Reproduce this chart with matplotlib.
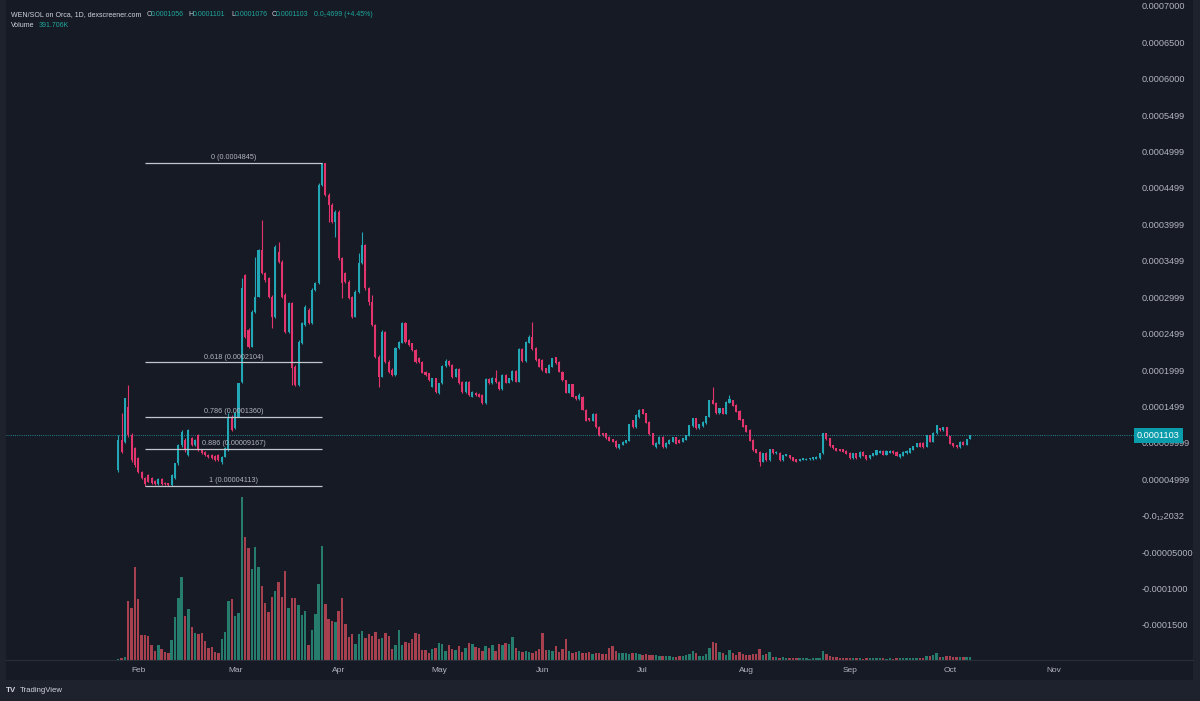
import matplotlib
matplotlib.use("Agg")
import matplotlib.pyplot as plt
import matplotlib.dates as mdates
from matplotlib.patches import Rectangle
from matplotlib.lines import Line2D
import numpy as np
import pandas as pd

plt.rcParams['font.family'] = ['Liberation Sans', 'DejaVu Sans']

# daily WEN/SOL candles, prices in units of 1e-4 SOL
start_date = "2024-01-26"
opens = [
    .627, 1.039, 1.016, 1.497, 1.108, .925, .787, .604, .513, .558,
    .513, .476, .430, .508, .453, .444, .421, .513, .719, .970,
    1.039, .833, 1.062, .970, 1.108, .902, .879, .833, .833, .819,
    .833, .742, .810, .902, 1.359, 1.199, 1.359, 1.840, 3.305, 2.549,
    2.321, 2.801, 3.007, 3.648, 3.328, 3.259, 3.007, 2.732, 3.625, 3.488,
    3.030, 2.527, 2.916, 2.046, 1.794, 2.366, 2.618, 2.824, 2.641, 3.099,
    3.190, 4.540, 4.838, 4.403, 4.266, 4.037, 4.174, 3.533, 3.328, 3.213,
    3.007, 2.732, 3.076, 3.465, 3.717, 3.122, 2.938, 2.618, 2.183, 1.909,
    2.527, 2.115, 2.000, 1.932, 2.298, 2.375, 2.641, 2.412, 2.366, 2.275,
    2.160, 2.115, 1.977, 1.954, 1.771, 1.886, 1.680, 1.817, 2.055, 2.128,
    2.069, 1.909, 2.009, 1.840, 1.703, 1.840, 1.634, 1.689, 1.671, 1.657,
    1.542, 1.872, 1.817, 1.895, 1.840, 1.735, 1.932, 1.826, 1.863, 1.991,
    1.840, 2.289, 2.128, 2.375, 2.458, 2.298, 2.147, 2.138, 2.023, 1.964,
    2.046, 2.174, 2.115, 1.977, 1.863, 1.689, 1.808, 1.643, 1.597, 1.634,
    1.451, 1.337, 1.305, 1.396, 1.222, 1.130, 1.131, 1.085, 1.049, 1.030,
    .925, .971, 1.003, 1.030, 1.314, 1.213, 1.351, 1.460, 1.405, 1.291,
    1.131, .939, .985, 1.085, .939, .985, 1.017, 1.076, 1.040, 1.017,
    1.040, 1.094, 1.232, 1.337, 1.200, 1.232, 1.268, 1.360, 1.588, 1.552,
    1.405, 1.474, 1.396, 1.552, 1.588, 1.520, 1.442, 1.323, 1.245, 1.177,
    1.040, .912, .879, .742, .865, .765, .911, .856, .865, .765,
    .819, .833, .801, .774, .755, .765, .765, .774, .774, .783,
    .787, .856, 1.131, 1.062, .970, .925, .911, .911, .893, .865,
    .787, .856, .801, .879, .833, .787, .819, .833, .865, .893,
    .833, .865, .893, .879, .801, .819, .856, .865, .902, .948,
    1.003, 1.003, .948, 1.108, 1.016, 1.131, 1.199, 1.176, 1.213, 1.094,
    .993, .970, .938, 1.016, .970, 1.056,
]
highs = [
    1.108, 1.405, 1.611, 1.794, 1.131, .947, .800, .615, .525, .572,
    .526, .490, .513, .517, .462, .453, .572, .728, .984, 1.176,
    1.062, 1.185, 1.085, 1.057, 1.121, .911, .888, .847, .847, .833,
    .847, .819, .938, 1.405, 1.382, 1.428, 1.817, 3.259, 3.318, 2.572,
    2.824, 3.556, 3.657, 4.060, 3.350, 3.273, 3.030, 3.717, 3.762, 3.511,
    3.053, 2.938, 2.938, 2.069, 2.412, 2.664, 2.893, 2.847, 3.122, 3.213,
    4.563, 4.845, 4.840, 4.426, 4.289, 4.197, 4.197, 3.556, 3.350, 3.236,
    3.016, 3.099, 3.602, 3.900, 3.726, 3.135, 3.030, 2.632, 2.206, 2.549,
    2.540, 2.137, 2.023, 2.311, 2.398, 2.655, 2.655, 2.426, 2.375, 2.289,
    2.175, 2.128, 1.991, 1.964, 1.895, 1.895, 1.817, 2.069, 2.147, 2.137,
    2.078, 2.023, 2.023, 1.854, 1.854, 1.854, 1.716, 1.703, 1.680, 1.671,
    1.886, 1.886, 1.909, 2.000, 1.849, 1.945, 1.945, 1.895, 2.000, 2.000,
    2.302, 2.302, 2.403, 2.481, 2.664, 2.311, 2.160, 2.150, 2.035, 2.080,
    2.170, 2.185, 2.125, 1.985, 1.870, 1.815, 1.815, 1.650, 1.689, 1.645,
    1.460, 1.345, 1.405, 1.405, 1.230, 1.140, 1.140, 1.090, 1.055, 1.038,
    .990, 1.022, 1.045, 1.265, 1.320, 1.390, 1.460, 1.470, 1.412, 1.298,
    1.140, 1.010, 1.092, 1.092, 1.010, 1.048, 1.082, 1.082, 1.048, 1.070,
    1.115, 1.252, 1.345, 1.345, 1.265, 1.298, 1.376, 1.595, 1.763, 1.560,
    1.480, 1.480, 1.572, 1.657, 1.595, 1.528, 1.450, 1.330, 1.252, 1.185,
    1.048, .920, .885, .862, .872, .918, .918, .885, .872, .840,
    .852, .840, .808, .780, .780, .792, .788, .796, .805, .815,
    .862, 1.140, 1.140, 1.070, .976, .930, .918, .918, .898, .870,
    .862, .862, .885, .885, .840, .840, .862, .908, .898, .898,
    .898, .898, .898, .885, .852, .885, .898, .930, .962, .998,
    1.008, 1.008, 1.115, 1.115, 1.148, 1.252, 1.205, 1.220, 1.220, 1.100,
    .998, .976, 1.022, 1.022, 1.055, 1.103,
]
lows = [
    .604, .856, .993, 1.085, .742, .673, .591, .499, .4113, .462,
    .435, .426, .421, .421, .426, .412, .412, .504, .696, .947,
    .879, .819, .957, .957, .888, .847, .819, .787, .774, .755,
    .751, .710, .801, .892, 1.167, 1.185, 1.350, 1.826, 2.435, 2.298,
    2.311, 2.787, 2.998, 3.318, 3.213, 2.984, 2.572, 2.710, 3.465, 2.984,
    2.513, 2.513, 1.794, 1.781, 1.781, 2.357, 2.609, 2.632, 2.632, 3.090,
    3.181, 4.527, 4.389, 4.037, 4.023, 3.831, 3.511, 2.984, 3.199, 2.971,
    2.710, 2.723, 3.062, 3.456, 3.099, 2.893, 2.604, 2.160, 1.762, 1.900,
    2.092, 1.954, 1.918, 1.918, 2.284, 2.366, 2.375, 2.330, 2.261, 2.101,
    2.101, 1.954, 1.918, 1.849, 1.762, 1.689, 1.666, 1.808, 2.046, 2.055,
    1.895, 1.900, 1.808, 1.689, 1.689, 1.643, 1.625, 1.643, 1.625, 1.529,
    1.529, 1.808, 1.808, 1.826, 1.726, 1.726, 1.817, 1.817, 1.854, 1.831,
    1.831, 2.115, 2.115, 2.366, 2.275, 2.128, 2.037, 1.990, 1.955, 1.955,
    2.040, 2.085, 1.970, 1.855, 1.680, 1.680, 1.625, 1.590, 1.590, 1.445,
    1.298, 1.298, 1.298, 1.205, 1.100, 1.100, 1.055, 1.025, 1.010, .930,
    .918, .965, .998, 1.025, 1.205, 1.205, 1.345, 1.390, 1.270, 1.115,
    .965, .930, .978, .930, .930, .978, 1.010, .978, .995, 1.010,
    1.033, 1.088, 1.225, 1.192, 1.192, 1.225, 1.262, 1.352, 1.528, 1.398,
    1.398, 1.390, 1.390, 1.545, 1.500, 1.422, 1.308, 1.215, 1.148, 1.024,
    .895, .860, .682, .735, .758, .758, .850, .850, .758, .758,
    .815, .782, .750, .738, .750, .760, .760, .770, .770, .778,
    .782, .850, 1.040, .950, .918, .888, .888, .875, .842, .782,
    .782, .782, .795, .815, .770, .782, .815, .828, .860, .828,
    .828, .860, .850, .815, .796, .815, .850, .860, .898, .942,
    .942, .932, .942, 1.010, 1.010, 1.125, 1.170, 1.170, 1.088, .978,
    .950, .932, .932, .965, .965, 1.050,
]
closes = [
    1.039, .879, 1.611, 1.108, .764, .696, .604, .513, .430, .467,
    .444, .435, .499, .430, .435, .421, .558, .719, .970, 1.153,
    .902, 1.176, .970, 1.039, .902, .856, .833, .801, .787, .764,
    .764, .810, .925, 1.359, 1.176, 1.405, 1.817, 3.122, 2.458, 2.321,
    2.801, 3.007, 3.648, 3.328, 3.236, 3.007, 2.732, 3.694, 3.488, 3.007,
    2.527, 2.916, 2.023, 1.794, 2.389, 2.641, 2.870, 2.641, 3.099, 3.190,
    4.540, 4.838, 4.403, 4.266, 4.037, 4.174, 3.533, 3.190, 3.213, 2.984,
    2.732, 3.076, 3.465, 3.717, 3.122, 2.938, 2.618, 2.183, 1.909, 2.527,
    2.115, 1.977, 1.932, 2.298, 2.380, 2.641, 2.389, 2.344, 2.275, 2.115,
    2.115, 1.964, 1.932, 1.863, 1.886, 1.703, 1.817, 2.055, 2.128, 2.069,
    1.909, 2.009, 1.817, 1.703, 1.840, 1.657, 1.703, 1.657, 1.634, 1.542,
    1.872, 1.817, 1.895, 1.840, 1.735, 1.932, 1.826, 1.886, 1.991, 1.840,
    2.289, 2.128, 2.389, 2.458, 2.284, 2.137, 2.046, 2.000, 1.964, 2.069,
    2.161, 2.092, 1.977, 1.863, 1.689, 1.808, 1.634, 1.597, 1.657, 1.451,
    1.305, 1.310, 1.396, 1.213, 1.108, 1.108, 1.062, 1.030, 1.017, .939,
    .985, 1.017, 1.040, 1.259, 1.213, 1.383, 1.451, 1.396, 1.277, 1.122,
    .971, 1.003, 1.085, .939, 1.003, 1.040, 1.076, .985, 1.003, 1.062,
    1.108, 1.245, 1.337, 1.200, 1.259, 1.291, 1.369, 1.588, 1.534, 1.405,
    1.474, 1.396, 1.566, 1.597, 1.506, 1.428, 1.314, 1.222, 1.154, 1.030,
    .902, .866, .742, .856, .765, .911, .856, .879, .765, .833,
    .847, .787, .755, .742, .774, .787, .783, .792, .801, .810,
    .856, 1.131, 1.048, .957, .925, .893, .893, .879, .847, .787,
    .856, .787, .879, .819, .774, .833, .856, .902, .893, .833,
    .893, .893, .856, .819, .847, .879, .893, .925, .957, .993,
    .948, .938, 1.108, 1.016, 1.140, 1.245, 1.176, 1.213, 1.094, .984,
    .957, .938, 1.016, .970, 1.048, 1.103,
]
# daily volume, millions
volumes = [
    .09, .22, .43, 7.71, 6.83, 12.19, 7.93, 3.27, 3.27, 3.13,
    1.96, 1.18, 1.96, 1.40, 1.08, .95, 2.61, 5.66, 8.14, 10.88,
    5.75, 6.62, 4.27, 3.49, 3.40, 3.57, 2.48, 1.61, 1.74, 1.08,
    .88, 2.70, 3.66, 7.71, 7.93, 5.75, 6.10, 21.33, 16.10, 14.59,
    11.85, 14.72, 12.19, 9.66, 7.40, 6.31, 8.19, 9.01, 10.15, 8.19,
    11.58, 6.75, 8.06, 8.14, 7.18, 5.88, 6.44, 1.96, 3.92, 5.97,
    9.89, 14.93, 7.31, 5.32, 5.13, 5.00, 6.44, 8.06, 4.66, 3.04,
    3.36, 2.05, 3.36, 3.79, 2.91, 3.36, 3.13, 3.70, 2.78, 2.91,
    3.57, 3.13, 1.48, 1.92, 3.88, 1.92, 2.35, 2.18, 2.78, 3.57,
    3.36, 1.31, 1.31, .95, 1.48, 1.53, 2.26, 2.05, 1.18, 1.92,
    1.48, 1.31, 1.83, 1.04, 1.61, 2.18, 2.05, 1.74, 1.61, 1.18,
    1.83, 1.61, 1.92, 1.18, 2.05, 1.92, 2.18, 2.05, 3.04, 1.61,
    1.18, 1.04, 1.18, 1.04, .87, 1.18, 1.40, 3.57, 1.31, 1.31,
    1.18, 1.83, 1.04, 1.48, 2.70, 1.18, .87, 1.04, 1.18, .95,
    .87, 1.04, .82, .95, .87, .74, .74, 1.61, 1.83, 1.18,
    .95, .95, .87, .82, .95, .87, .74, .61, .74, .65,
    .65, .59, .52, .52, .52, .46, .39, .39, .46, .52,
    .65, .78, 1.21, .95, .52, .52, .78, 1.61, 2.39, 2.18,
    1.08, .95, .65, 1.31, .95, .65, 1.08, .78, .65, .65,
    .74, .78, 1.40, .65, .74, 1.04, .43, .33, .26, .33,
    .26, .26, .24, .26, .20, .20, .20, .17, .20, .26,
    .26, 1.21, .74, .56, .39, .33, .26, .26, .22, .26,
    .20, .20, .20, .17, .20, .26, .20, .24, .20, .20,
    .17, .20, .17, .20, .20, .22, .26, .22, .29, .26,
    .26, .26, .52, .52, .65, .87, .43, .35, .48, .52,
    .39, .33, .33, .33, .33, .39,
]

month_ticks = ["2024-02-01", "2024-03-01", "2024-04-01", "2024-05-01", "2024-06-01",
               "2024-07-01", "2024-08-01", "2024-09-01", "2024-10-01", "2024-11-01"]
month_labels = ["Feb", "Mar", "Apr", "May", "Jun", "Jul", "Aug", "Sep", "Oct", "Nov"]

price_ticks = [-1.5e-4, -1e-4, -0.5e-4, 0, 0.5e-4, 1e-4, 1.5e-4, 2e-4, 2.5e-4, 3e-4,
               3.5e-4, 4e-4, 4.5e-4, 5e-4, 5.5e-4, 6e-4, 6.5e-4, 7e-4]
price_labels = ["-0.0001500", "-0.0001000", "-0.00005000", "-0.0\u2081\u20822032",
                "0.00004999", "0.00009999", "0.0001499", "0.0001999", "0.0002499",
                "0.0002999", "0.0003499", "0.0003999", "0.0004499", "0.0004999",
                "0.0005499", "0.0006000", "0.0006500", "0.0007000"]

# fib retracement drawn from the Feb low to the March top
fib_high = 4.845e-4
fib_low = 0.4113e-4
fib_start_idx = 8
fib_end_idx = 61
fib_levels = [0, 0.618, 0.786, 0.886, 1]
fib_labels = ["0 (0.0004845)", "0.618 (0.0002104)", "0.786 (0.0001360)",
              "0.886 (0.00009167)", "1 (0.00004113)"]

header_parts = [("WEN/SOL on Orca, 1D, dexscreener.com", 11, "t"),
                ("O", 146.5, "t"), ("0.0001056", 150.5, "v"),
                ("H", 188.5, "t"), ("0.0001101", 193, "v"),
                ("L", 231, "t"), ("0.0001076", 235, "v"),
                ("C", 271.5, "t"), ("0.0001103", 275.5, "v"),
                ("0.0\u20854699 (+4.45%)", 314, "v")]
volume_parts = [("Volume", 11, "t"), ("391.706K", 39, "v")]

BG = "#161a25"
OUTER = "#1e222d"
UP = "#22a7b6"
DOWN = "#e2356d"
VUP = "#267d6e"
VDOWN = "#a7404f"
TXT = "#b2b5be"
VAL = "#1fa79c"

W, H = 1200, 701
fig = plt.figure(figsize=(12, 7.01), dpi=100, facecolor=OUTER)
fig.patches.append(Rectangle((6 / W, 1 - 680 / H), 1187 / W, 680 / H,
                             transform=fig.transFigure, facecolor=BG, edgecolor="none", zorder=0))
fig.lines.append(Line2D([6 / W, 1193 / W], [1 - 660 / H, 1 - 660 / H],
                        transform=fig.transFigure, color="#2a2e39", lw=0.8))

ax = fig.add_axes([6 / W, 1 - 660 / H, 1128 / W, 660 / H])
ax2 = ax.twinx()
ax.set_zorder(2)
ax2.set_zorder(1)
for a in (ax, ax2):
    a.patch.set_visible(False)
    for s in a.spines.values():
        s.set_visible(False)

o = np.array(opens) * 1e-4
hi = np.array(highs) * 1e-4
lo = np.array(lows) * 1e-4
c = np.array(closes) * 1e-4
hi = np.maximum(hi, np.maximum(o, c))
lo = np.minimum(lo, np.minimum(o, c))
dates = mdates.date2num(pd.date_range(start_date, periods=len(closes)))
up = c >= o
cols = np.where(up, UP, DOWN)

# volume underneath
ax2.bar(dates, volumes, width=0.72, color=np.where(up, VUP, VDOWN), linewidth=0)
ax2.set_ylim(0, 660 * 0.1306)
ax2.set_yticks([])

# candles
ax.vlines(dates, lo, hi, colors=cols, linewidth=0.8, zorder=3)
body = np.maximum(np.abs(c - o), 0.012e-4)
ax.bar(dates, body, bottom=np.minimum(o, c), width=0.62, color=cols, linewidth=0, zorder=4)

d0 = dates[0]
ax.set_xlim(d0 - 33.6, d0 + 304.1)
ax.set_ylim(-1.981e-4, 7.081e-4)

# fib retracement
x0, x1 = dates[fib_start_idx], dates[fib_end_idx]
for lev, lab in zip(fib_levels, fib_labels):
    y = fib_high - lev * (fib_high - fib_low)
    ax.hlines(y, x0, x1, colors="#c3c6cd", linewidth=0.9, zorder=5)
    ax.annotate(lab, ((x0 + x1) / 2, y), xytext=(0, 1.2), textcoords="offset points",
                ha="center", va="bottom", fontsize=5.2, color=TXT, zorder=6)

# last price line and badge
last = c[-1]
ax.axhline(last, color=UP, linestyle=(0, (1, 1.6)), linewidth=0.6, zorder=2)

ax.yaxis.tick_right()
ax.set_yticks(price_ticks)
ax.set_yticklabels(price_labels)
ax.tick_params(axis="y", length=0, pad=5.8, labelsize=6.6, labelcolor=TXT)
ax.set_xticks(mdates.date2num(pd.to_datetime(month_ticks)))
ax.set_xticklabels(month_labels)
ax.tick_params(axis="x", length=0, pad=5, labelsize=6.0, labelcolor=TXT)

ax.text(1.0027, last, "0.0001103", transform=ax.get_yaxis_transform(), ha="left", va="center",
        fontsize=6.6, color="white", clip_on=False, zorder=10,
        bbox=dict(boxstyle="square,pad=0.3", facecolor="#0b9cab", edgecolor="none"))

# header legend
for txt, xp, kind in header_parts:
    fig.text(xp / W, 1 - 15 / H, txt, ha="left", va="center", fontsize=5.0,
             color="#d1d4dc" if kind == "t" else VAL)
for txt, xp, kind in volume_parts:
    fig.text(xp / W, 1 - 25.5 / H, txt, ha="left", va="center", fontsize=5.0,
             color="#d1d4dc" if kind == "t" else VAL)

# TradingView mark
fig.text(6 / W, 1 - 690 / H, "TV", ha="left", va="center", fontsize=5.8,
         fontweight="bold", color="#d1d4dc")
fig.text(20 / W, 1 - 690 / H, "TradingView", ha="left", va="center", fontsize=5.6,
         color="#d1d4dc")

fig.savefig("out.png", dpi=100, facecolor=OUTER)
